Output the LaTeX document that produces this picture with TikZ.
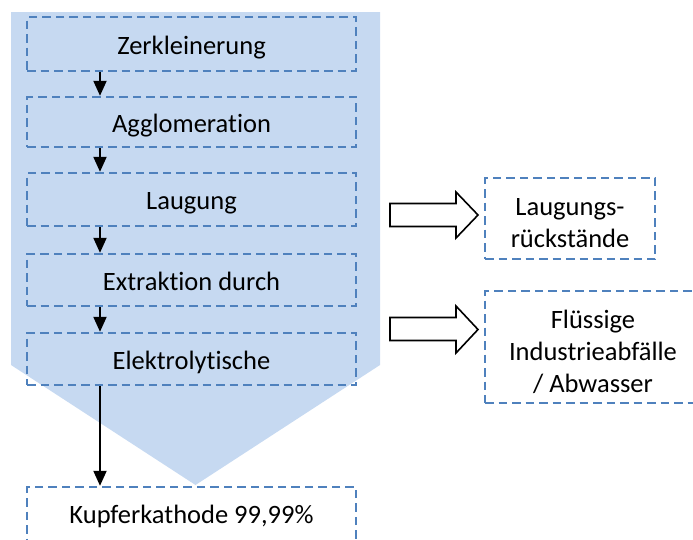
\documentclass[tikz,border=0pt]{standalone}
\usepackage{fontspec}
\setmainfont[Ligatures=NoCommon]{Carlito}
\usetikzlibrary{arrows.meta}
\definecolor{fillblue}{HTML}{C6D9F1}
\definecolor{dashblue}{HTML}{4F81BD}
\begin{document}
\begin{tikzpicture}[x=1pt,y=-1pt,
  boxline/.style={draw=dashblue, line width=2.4pt, dash pattern=on 8.5pt off 5pt, inner sep=0pt,
    font=\fontsize{26.5}{32}\selectfont, align=center},
  stepbox/.style={boxline, minimum width=329pt, minimum height=52pt, text height=25pt, text depth=5pt},
  flow/.style={-{Triangle[length=15pt,width=13pt]}, line width=2pt},
  hollow/.style={draw=black, line width=1.6pt, fill=white, line join=miter}]
\useasboundingbox (0,0) rectangle (693,539);
% funnel background
\fill[fillblue] (11,12) -- (380,12) -- (380,365) -- (195.5,485) -- (11,365) -- cycle;
% steps
\node[stepbox, minimum height=54pt] (z) at (191.5,44) {Zerkleinerung};
\node[stepbox, minimum height=50pt] (a) at (191.5,122) {Agglomeration};
\node[stepbox, minimum height=53pt] (l) at (191.5,199.5) {Laugung};
\node[stepbox] (e) at (191.5,280) {Extraktion durch};
\node[stepbox] (el) at (191.5,359) {Elektrolytische};
\node[stepbox, minimum height=60pt, text depth=13pt] (k) at (191.5,517) {Kupferkathode 99,99\%};
% side outputs
\node[boxline, minimum width=170pt, minimum height=81pt, text height=62pt, text depth=5pt] (r) at (570,218.5) {Laugungs-\\rückstände};
\node[boxline, minimum width=216pt, minimum height=112pt, text height=95pt, text depth=5pt] (w) at (593,347) {Flüssige\\Industrieabfälle\\/ Abwasser};
% flow arrows
\coordinate (ax) at (100,0);
\draw[flow] (z.south -| ax) -- (a.north -| ax);
\draw[flow] (a.south -| ax) -- (l.north -| ax);
\draw[flow] (l.south -| ax) -- (e.north -| ax);
\draw[flow] (e.south -| ax) -- (el.north -| ax);
\draw[flow] (el.south -| ax) -- (k.north -| ax);
% hollow block arrows
\draw[hollow] (390,203.5) -- (456,203.5) -- (456,192) -- (478,215) -- (456,238) -- (456,226.5) -- (390,226.5) -- cycle;
\draw[hollow] (390,317.5) -- (456,317.5) -- (456,306) -- (478,329.5) -- (456,353) -- (456,340.5) -- (390,340.5) -- cycle;
\end{tikzpicture}
\end{document}
